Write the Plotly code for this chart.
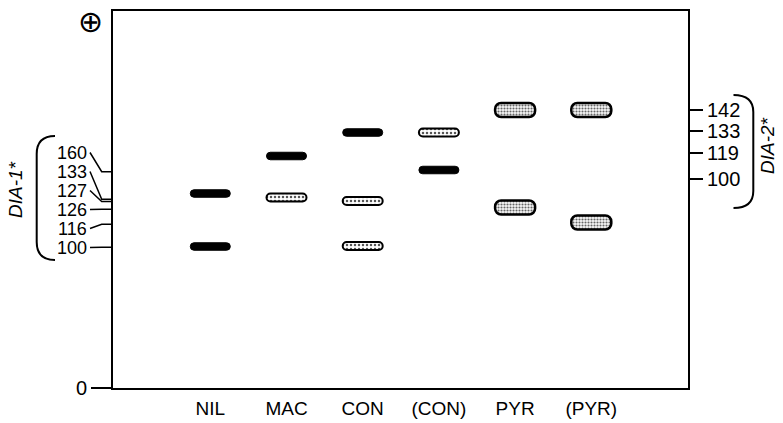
import plotly.graph_objects as go

# ---------------- data ----------------
lanes = ["NIL", "MAC", "CON", "(CON)", "PYR", "(PYR)"]

# migration distance from origin (arbitrary units)
black_lane = ["NIL", "NIL", "MAC", "CON", "(CON)"]
black_mob = [194.5, 141.5, 232.0, 255.5, 218.0]

light_lane = ["MAC", "CON", "CON", "(CON)"]
light_mob = [190.5, 187.0, 142.0, 255.5]

pyr_lane = ["PYR", "PYR", "(PYR)", "(PYR)"]
pyr_mob = [278.0, 180.5, 278.0, 165.5]

dia1_alleles = ["160", "133", "127", "126", "116", "100"]
dia1_pos = [216.3, 188.7, 186.5, 178.7, 163.7, 140.7]

dia2_alleles = ["142", "133", "119", "100"]
dia2_pos = [278.0, 257.0, 235.3, 209.0]

# ---------------- style ----------------
FONT = "Liberation Sans, Arial, Helvetica, sans-serif"
W, H = 783, 423
ML, MR, MT, MB = 113, 95, 11, 35
PW = W - ML - MR
YMAX = H - MT - MB
BAR_W = 0.525


def px_x(X):
    return (X - ML) / PW


fig = go.Figure()


def add_bands(lane, mob, thick, fill, line_w, radius, pattern=None):
    fig.add_trace(go.Bar(
        x=lane,
        y=[thick] * len(mob),
        base=[m - thick / 2 for m in mob],
        width=BAR_W,
        marker=dict(color=fill, line=dict(color="black", width=line_w),
                    cornerradius=radius, pattern=pattern),
        hoverinfo="skip", showlegend=False,
    ))


add_bands(black_lane, black_mob, 7.5, "black", 1, 4)
add_bands(light_lane, light_mob, 8, "white", 2, 5,
          dict(shape=".", fgcolor="#555", bgcolor="white", size=4, solidity=0.3))
add_bands(pyr_lane, pyr_mob, 14, "white", 2.5, 6,
          dict(shape=".", fgcolor="#666", bgcolor="#f8f8f8", size=3, solidity=0.4))

# invisible trace so the right axis is drawn
fig.add_trace(go.Scatter(x=[lanes[0]], y=[0], yaxis="y2", mode="markers",
                         marker=dict(opacity=0), hoverinfo="skip", showlegend=False))

# DIA-1 allele labels with leader lines
label_top = 235.5
label_step = 19
x_lab = px_x(88)
x_leader0 = px_x(90)
x_leader1 = px_x(101.7)
for i, (name, pos) in enumerate(zip(dia1_alleles, dia1_pos)):
    ly = label_top - i * label_step
    fig.add_shape(type="path", xref="paper", yref="y",
                  path=f"M {x_leader0},{ly} L {x_leader1},{pos} L 0,{pos}",
                  line=dict(color="black", width=1.5))
    fig.add_annotation(x=x_lab, y=ly, xref="paper", yref="y", text=name,
                       showarrow=False, xanchor="right", yanchor="middle",
                       height=15, borderpad=0,
                       font=dict(family=FONT, size=18, color="black"))

# brackets
xl_end, xl_v = px_x(55), px_x(36.7)
fig.add_shape(type="path", xref="paper", yref="y",
              path=f"M {xl_end},252 Q {xl_v},252 {xl_v},234 L {xl_v},146 Q {xl_v},128 {xl_end},128",
              line=dict(color="black", width=2))
xr_end, xr_v = px_x(733.5), px_x(753.3)
fig.add_shape(type="path", xref="paper", yref="y",
              path=f"M {xr_end},293 Q {xr_v},293 {xr_v},276 L {xr_v},197 Q {xr_v},180 {xr_end},180",
              line=dict(color="black", width=2))

fig.add_annotation(x=px_x(15), y=198, xref="paper", yref="y", text="<i>DIA-1*</i>",
                   textangle=-90, showarrow=False, xanchor="center", yanchor="middle",
                   font=dict(family=FONT, size=19, color="black"))
fig.add_annotation(x=px_x(767), y=242, xref="paper", yref="y", text="<i>DIA-2*</i>",
                   textangle=-90, showarrow=False, xanchor="center", yanchor="middle",
                   font=dict(family=FONT, size=19, color="black"))

# origin / anode symbol
fig.add_annotation(x=px_x(90), y=YMAX - 10, xref="paper", yref="y", text="⊕",
                   showarrow=False, xanchor="center", yanchor="middle",
                   font=dict(family="DejaVu Sans", size=30, color="black"))

x0 = (ML - 210.3) / 76.2
x1 = (W - MR - 210.3) / 76.2

fig.update_layout(
    template="none",
    width=W, height=H, autosize=False,
    margin=dict(l=ML, r=MR, t=MT, b=MB, pad=0),
    plot_bgcolor="white", paper_bgcolor="white",
    font=dict(family=FONT, color="black"),
    barmode="overlay", showlegend=False,
    xaxis=dict(type="category", categoryorder="array", categoryarray=lanes,
               range=[x0, x1], showgrid=False, zeroline=False, automargin=False,
               showline=True, mirror=True, linecolor="black", linewidth=2,
               ticks="", tickfont=dict(family=FONT, size=19, color="black"),
               ticklabelstandoff=2),
    yaxis=dict(range=[0, YMAX], showgrid=False, zeroline=False, automargin=False,
               showline=True, mirror=True, linecolor="black", linewidth=2,
               tickvals=[0], ticktext=["0"], ticks="outside", ticklen=20,
               tickwidth=1.5, tickcolor="black",
               tickfont=dict(family=FONT, size=20, color="black")),
    yaxis2=dict(range=[0, YMAX], overlaying="y", side="right", automargin=False,
                showgrid=False, zeroline=False, showline=False,
                tickvals=dia2_pos, ticktext=dia2_alleles,
                ticks="outside", ticklen=14, tickwidth=1.5, tickcolor="black",
                tickfont=dict(family=FONT, size=20, color="black")),
)

fig.write_html("out.html")
